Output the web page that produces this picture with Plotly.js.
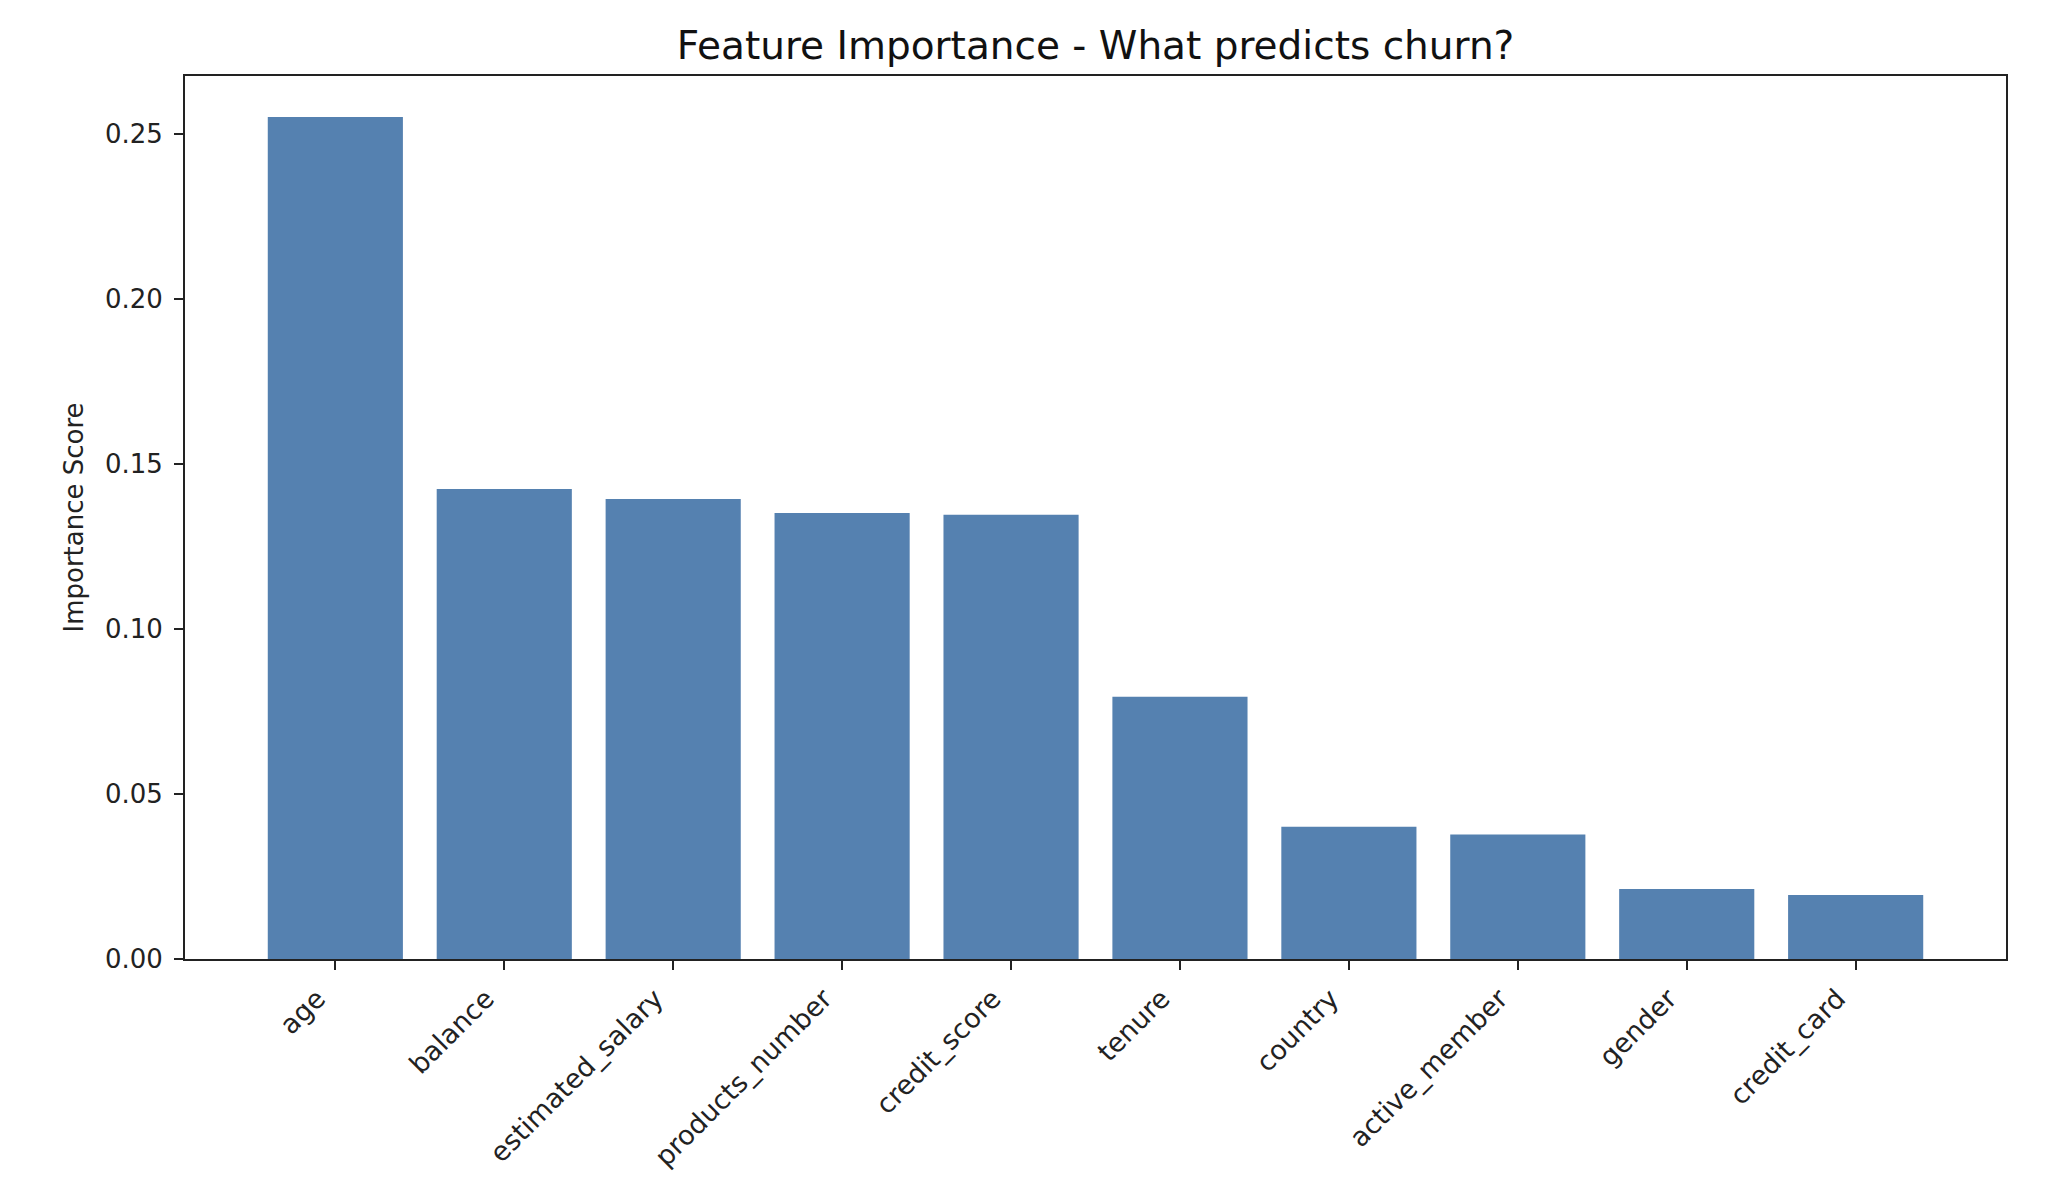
<!DOCTYPE html>
<html>
<head>
<meta charset="utf-8">
<script src="https://cdn.plot.ly/plotly-3.0.1.min.js"></script>
<style>
  html, body { margin: 0; padding: 0; background: white; }
  #chart { width: 2066px; height: 1186px; }
</style>
</head>
<body>
<div id="chart"></div>
<script>
// feature importances
const features = ['age', 'balance', 'estimated_salary', 'products_number', 'credit_score',
                  'tenure', 'country', 'active_member', 'gender', 'credit_card'];
const importance = [0.2552, 0.1424, 0.1394, 0.1352, 0.1346, 0.0795, 0.0401, 0.0377, 0.0212, 0.0194];
const yTicks = [0, 0.05, 0.10, 0.15, 0.20, 0.25];
const yTickText = ['0.00', '0.05', '0.10', '0.15', '0.20', '0.25'];

const font = 'DejaVu Sans, sans-serif';

const data = [{
  type: 'bar',
  x: features,
  y: importance,
  width: 0.8,
  marker: { color: '#5581b0', line: { width: 0 } },
  hoverinfo: 'x+y'
}];

const axisCommon = {
  showline: true,
  mirror: true,
  linecolor: '#222',
  linewidth: 2,
  ticks: 'outside',
  ticklen: 9,
  tickwidth: 2,
  tickcolor: '#222',
  showgrid: false,
  zeroline: false,
  tickfont: { family: font, size: 26, color: '#222' }
};

const layout = {
  width: 2066,
  height: 1186,
  margin: { l: 185, r: 60, t: 76, b: 227 },
  paper_bgcolor: 'white',
  plot_bgcolor: 'white',
  showlegend: false,
  title: {
    text: 'Feature Importance - What predicts churn?',
    font: { family: font, size: 39, color: '#111' },
    x: 0.5, xref: 'paper', xanchor: 'center',
    y: 1 - 45 / 1186, yref: 'container', yanchor: 'middle'
  },
  xaxis: Object.assign({}, axisCommon, {
    type: 'category',
    range: [-0.89, 9.89],
    tickangle: -45,
    tickfont: { family: font, size: 27, color: '#222' },
    ticklabelshift: -18,
    ticklabelstandoff: 2,
    automargin: false
  }),
  yaxis: Object.assign({}, axisCommon, {
    range: [0, 0.2676],
    tickvals: yTicks,
    ticktext: yTickText,
    ticklabelstandoff: 6,
    automargin: false,
    title: {
      text: 'Importance Score',
      font: { family: font, size: 26, color: '#222' },
      standoff: 14
    }
  })
};

Plotly.newPlot('chart', data, layout, { displayModeBar: false, staticPlot: true });
</script>
</body>
</html>
